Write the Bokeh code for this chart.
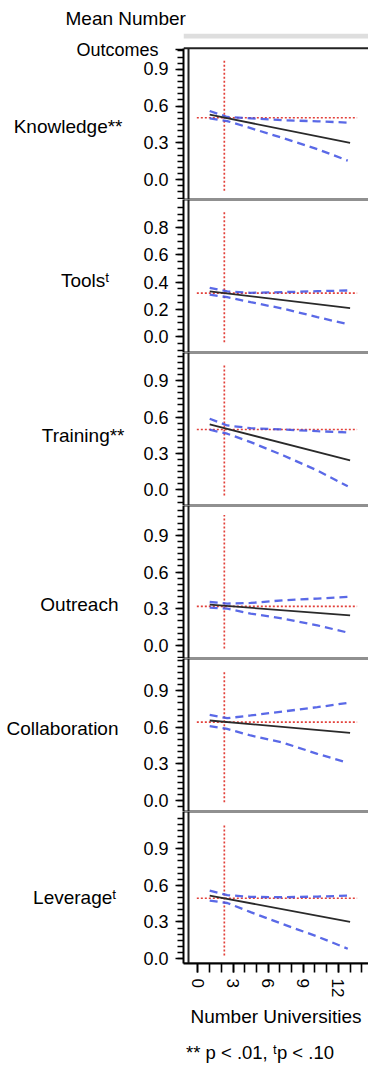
from bokeh.plotting import figure
from bokeh.layouts import column
from bokeh.models import Range1d, FixedTicker, NumeralTickFormatter, LinearAxis, Title
from bokeh.embed import file_html
from bokeh.resources import INLINE

# ---------------- data ----------------
outcomes = ["Knowledge**", "Tools\u1d57", "Training**", "Outreach", "Collaboration", "Leverage\u1d57"]
header_lines = ["Mean Number", "Outcomes"]
x_title = "Number Universities"
footnote = "** p < .01, \u1d57p < .10"

x_ticks = [0, 3, 6, 9, 12]
y_ticks = [
    [0.0, 0.3, 0.6, 0.9],
    [0.0, 0.2, 0.4, 0.6, 0.8],
    [0.0, 0.3, 0.6, 0.9],
    [0.0, 0.3, 0.6, 0.9],
    [0.0, 0.3, 0.6, 0.9],
    [0.0, 0.3, 0.6, 0.9],
]

mean_universities = 2.25
mean_outcome = [0.505, 0.318, 0.498, 0.320, 0.642, 0.494]
mean_hline_x = [-0.1, 13.6]
mean_vline_top = [0.98, 0.926, 1.04, 1.066, 1.066, 1.107]
mean_vline_bottom = [-0.09, -0.042, -0.045, -0.025, -0.014, 0.025]

fit_x = [1, 13]
fit_y = [
    [0.530, 0.300],
    [0.331, 0.208],
    [0.540, 0.243],
    [0.333, 0.246],
    [0.656, 0.555],
    [0.516, 0.300],
]

ci_x = [1, 2.5, 4.5, 7.3, 10.2, 12.8]
ci_upper = [
    [0.560, 0.511, 0.500, 0.484, 0.476, 0.465],
    [0.358, 0.331, 0.321, 0.326, 0.333, 0.338],
    [0.586, 0.531, 0.509, 0.498, 0.484, 0.474],
    [0.355, 0.342, 0.347, 0.369, 0.383, 0.397],
    [0.702, 0.675, 0.697, 0.730, 0.765, 0.800],
    [0.557, 0.520, 0.505, 0.502, 0.508, 0.515],
]
ci_lower = [
    [0.500, 0.478, 0.420, 0.338, 0.249, 0.155],
    [0.307, 0.289, 0.252, 0.204, 0.142, 0.090],
    [0.496, 0.463, 0.394, 0.284, 0.161, 0.030],
    [0.309, 0.300, 0.260, 0.219, 0.164, 0.105],
    [0.609, 0.587, 0.533, 0.473, 0.383, 0.310],
    [0.475, 0.455, 0.380, 0.280, 0.180, 0.080],
]

# ---------------- layout / style ----------------
FONT = "Liberation Sans"
X_RANGE = (-1.239, 14.573)
Y_RANGES = [(-0.162, 1.192), (-0.118, 1.007), (-0.128, 1.132),
            (-0.107, 1.144), (-0.090, 1.164), (-0.041, 1.205)]
PANEL_TOP = [1.071, 1.007, 1.132, 1.144, 1.164, 1.205]
FRAME_H = [167, 153, 153, 153, 153, 152]
BORDER_TOP = [32, 0, 0, 0, 0, 0]
BORDER_BOTTOM = [0, 0, 0, 0, 0, 102]
LEFT = 183
LABEL_Y = [0.434, 0.41, 0.451, 0.336, 0.588, 0.50]
LABEL_STANDOFF = [-49, 31, 16, 22, 22, 24]
OUTCOMES_Y = 1.058
BAR_Y = (1.152, 1.192)
FOOT_X = 5.3

RED = "#e2403a"
BLUE = "#3d4fe3"
BLACK = "#2a2a2a"
FRAME_C = "#222222"

px_per_unit = 185 / (X_RANGE[1] - X_RANGE[0])
inner_x = X_RANGE[0] + 5 / px_per_unit
minor_y = [round(-0.15 + 0.05 * k, 2) for k in range(29)]

figs = []
for i in range(6):
    first = i == 0
    last = i == 5
    lo, hi = Y_RANGES[i]
    top = PANEL_TOP[i]
    h = FRAME_H[i] + BORDER_TOP[i] + BORDER_BOTTOM[i]
    p = figure(width=368, height=h, x_range=Range1d(*X_RANGE), y_range=Range1d(lo, hi),
               output_backend="svg", toolbar_location=None,
               min_border_left=LEFT, min_border_right=0,
               min_border_top=BORDER_TOP[i], min_border_bottom=BORDER_BOTTOM[i],
               x_axis_location="below" if last else None,
               outline_line_color=None, background_fill_color="white",
               border_fill_color="white")
    p.grid.visible = False

    # numeric y axis
    ax = p.yaxis[0]
    ticks = list(y_ticks[i])
    overrides = {}
    if first:
        ticks.append(OUTCOMES_Y)
        overrides[OUTCOMES_Y] = header_lines[1] + "\u00a0\u00a0"
        ax.bounds = (lo, top)
    ax.ticker = FixedTicker(ticks=ticks, minor_ticks=[t for t in minor_y if t < top - 0.01])
    ax.formatter = NumeralTickFormatter(format="0.0")
    ax.major_label_overrides = overrides
    ax.axis_line_width = 2
    ax.axis_line_color = "black"
    ax.major_tick_line_width = 1.6
    ax.minor_tick_line_width = 1.6
    ax.major_tick_out = 8
    ax.minor_tick_out = 6
    ax.major_tick_in = 0
    ax.minor_tick_in = 0
    ax.major_label_standoff = 7
    ax.major_label_text_font = FONT
    ax.major_label_text_font_size = "18px"
    ax.major_label_text_color = "black"

    # category label as an outer axis label
    lab = LinearAxis(ticker=FixedTicker(ticks=[LABEL_Y[i]], minor_ticks=[]),
                     major_label_overrides={LABEL_Y[i]: outcomes[i]},
                     axis_line_color=None, major_tick_line_color=None,
                     minor_tick_line_color=None, major_tick_out=0, minor_tick_out=0,
                     major_tick_in=0, minor_tick_in=0,
                     major_label_standoff=LABEL_STANDOFF[i],
                     major_label_text_font=FONT, major_label_text_font_size="19px",
                     major_label_text_color="black")
    p.add_layout(lab, "left")

    if first:
        p.add_layout(Title(text=header_lines[0], align="left", offset=-118,
                           text_font=FONT, text_font_size="19px", text_font_style="normal",
                           text_color="black", vertical_align="bottom", standoff=10), "above")
        p.quad(left=[X_RANGE[0]], right=[X_RANGE[1]], bottom=[BAR_Y[0]], top=[BAR_Y[1]],
               fill_color="#dedede", line_color=None)

    if last:
        xa = p.xaxis[0]
        xa.ticker = FixedTicker(ticks=x_ticks, minor_ticks=list(range(0, 15)))
        xa.axis_line_width = 2
        xa.major_tick_line_width = 1.6
        xa.minor_tick_line_width = 1.6
        xa.major_tick_out = 9
        xa.minor_tick_out = 9
        xa.major_tick_in = 0
        xa.minor_tick_in = 0
        xa.major_label_orientation = "vertical"
        xa.major_label_standoff = 6
        xa.major_label_text_font = FONT
        xa.major_label_text_font_size = "17px"
        xa.major_label_text_color = "black"
        xa.axis_label = x_title
        xa.axis_label_text_font = FONT
        xa.axis_label_text_font_size = "19px"
        xa.axis_label_text_font_style = "normal"
        xa.axis_label_text_color = "black"
        xa.axis_label_standoff = 6
        foot = LinearAxis(ticker=FixedTicker(ticks=[FOOT_X], minor_ticks=[]),
                          major_label_overrides={FOOT_X: footnote},
                          axis_line_color=None, major_tick_line_color=None,
                          minor_tick_line_color=None, major_tick_out=0, minor_tick_out=0,
                          major_tick_in=0, minor_tick_in=0, major_label_standoff=11,
                          major_label_text_font=FONT, major_label_text_font_size="18.5px",
                          major_label_text_color="black")
        p.add_layout(foot, "below")

    # frame lines
    p.segment(x0=[X_RANGE[0], X_RANGE[0], inner_x], y0=[top, lo, lo],
              x1=[X_RANGE[1], X_RANGE[1], inner_x], y1=[top, lo, top],
              line_color=FRAME_C, line_width=2)

    # mean reference lines
    m = mean_outcome[i]
    p.line(mean_hline_x, [m, m], line_color=RED, line_width=1.7, line_dash="2 2")
    p.line([mean_universities, mean_universities], [mean_vline_bottom[i], mean_vline_top[i]],
           line_color=RED, line_width=1.7, line_dash="2 2")

    # confidence bands and fit
    p.line(ci_x, ci_upper[i], line_color=BLUE, line_alpha=0.85, line_width=2.3, line_dash="8 5")
    p.line(ci_x, ci_lower[i], line_color=BLUE, line_alpha=0.85, line_width=2.3, line_dash="8 5")
    p.line(fit_x, fit_y[i], line_color=BLACK, line_width=1.8)

    figs.append(p)

layout = column(*figs, spacing=0)
open("out.html", "w").write(file_html(layout, INLINE))
